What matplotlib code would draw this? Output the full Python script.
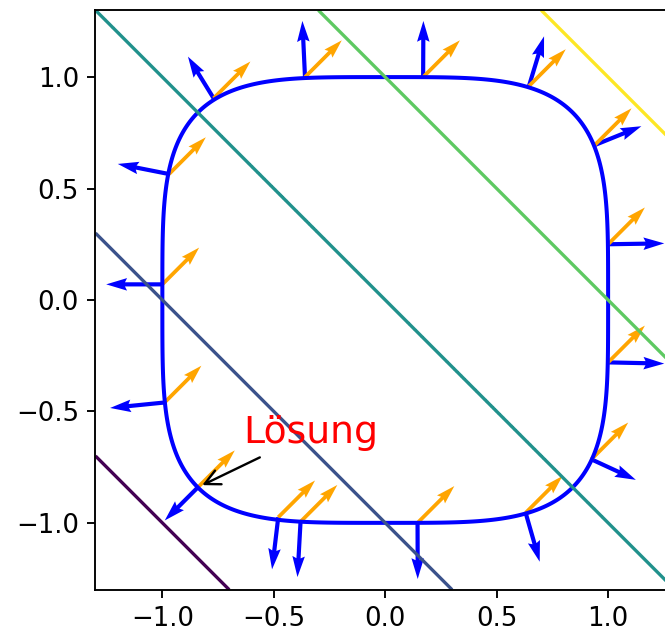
import numpy as np
import matplotlib
matplotlib.use('Agg')
import matplotlib.pyplot as plt

# Nebenbedingung g(x,y) = x^4 + y^4 = 1, Zielfunktion f(x,y) = x + y
levels = [-2, -1, 0, 1, 2]

# Punkte auf der Kurve, an denen die Gradienten gezeichnet sind
px = [-0.77, -0.36, 0.17, 0.645, 0.94, 1.0, 1.0, 0.925,
      0.63, 0.145, -0.38, -0.48, -0.84, -0.99, -1.0, -0.97]
py = [0.905, 1.0, 1.0, 0.96, 0.695, 0.25, -0.28, -0.715,
      -0.955, -1.0, -0.995, -0.975, -0.84, -0.46, 0.07, 0.565]

sol = (-0.84, -0.84)
label = "Lösung"

plt.rcParams['font.size'] = 11

fig = plt.figure(figsize=(665/170, 635/170), dpi=170)
ax = fig.add_axes([0.1436, 0.0709, 0.8714, 0.9134])

t = np.linspace(-1.3, 1.3, 400)
X, Y = np.meshgrid(t, t)
ax.contour(X, Y, X**4 + Y**4, levels=[1], colors='blue', linewidths=1.7)

px = np.array(px)
py = np.array(py)
ax.quiver(px, py, 4*px**3, 4*py**3, color='blue', angles='xy',
          scale_units='xy', scale=1/0.063, width=0.0072)
ax.quiver(px, py, np.ones_like(px), np.ones_like(py), color='orange',
          angles='xy', scale_units='xy', scale=1/0.165, width=0.0065)

ax.contour(X, Y, X + Y, levels=levels, cmap='viridis', linewidths=1.4)

ax.annotate(label, xy=sol, xytext=(-0.635, -0.64), color='red', fontsize=16,
            arrowprops=dict(arrowstyle='->', color='black'))

ax.set_xlim(-1.3, 1.3)
ax.set_ylim(-1.3, 1.3)
ax.set_aspect('equal')
ax.set_xticks([-1.0, -0.5, 0.0, 0.5, 1.0])
ax.set_yticks([-1.0, -0.5, 0.0, 0.5, 1.0])

fig.savefig('out.png', dpi=170)
